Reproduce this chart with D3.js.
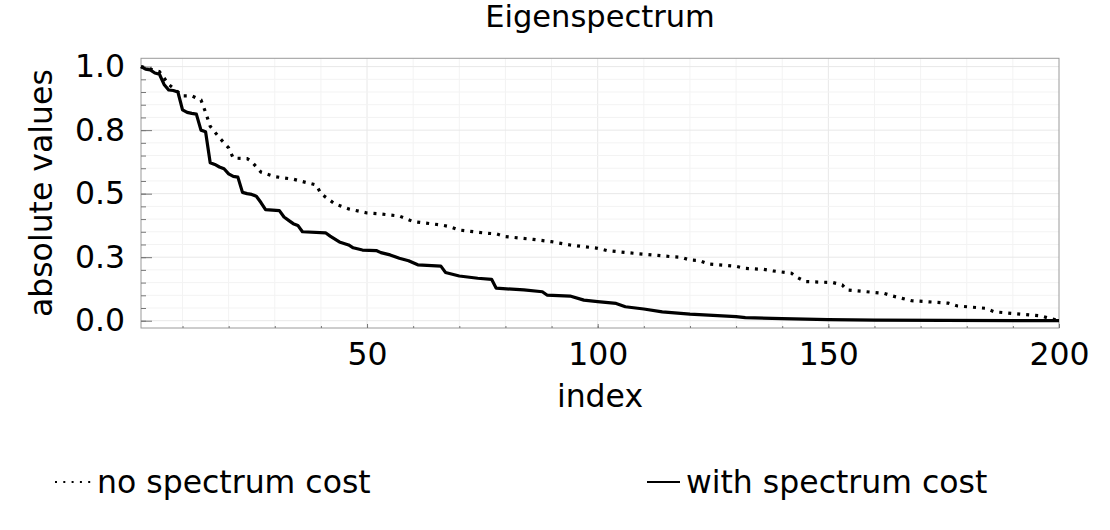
<!DOCTYPE html>
<html>
<head>
<meta charset="utf-8">
<script src="https://cdn.jsdelivr.net/npm/d3@7"></script>
<style>
  body { margin: 0; background: #fff; }
  text { font-family: "DejaVu Sans", sans-serif; fill: #000; }
</style>
</head>
<body>
<div id="chart"></div>
<script>
// breakpoints (index, value)
const withIdx = [1, 2, 3, 4, 5, 6, 7, 8, 9, 10, 11, 12, 13, 14, 15, 16, 17, 18, 19, 20,
  21, 22, 23, 24, 25, 26, 27, 28, 31, 32, 33, 34, 35, 36, 41, 42, 44, 46, 47, 49,
  52, 53, 55, 57, 59, 61, 66, 67, 70, 74, 77, 78, 84, 88, 89, 94, 97, 100, 104, 106,
  110, 114, 120, 125, 130, 132, 140, 150, 160, 175, 200];
const withVal = [1.0, 0.99, 0.987, 0.975, 0.97, 0.93, 0.908, 0.906, 0.9, 0.83, 0.82, 0.816, 0.813, 0.75, 0.744, 0.622, 0.615, 0.605, 0.598, 0.578,
  0.568, 0.565, 0.505, 0.5, 0.497, 0.49, 0.465, 0.437, 0.433, 0.408, 0.395, 0.382, 0.375, 0.35, 0.346, 0.333, 0.31, 0.298, 0.287, 0.278,
  0.276, 0.268, 0.259, 0.246, 0.236, 0.22, 0.215, 0.19, 0.176, 0.167, 0.163, 0.128, 0.121, 0.114, 0.101, 0.097, 0.081, 0.075, 0.068, 0.055,
  0.046, 0.035, 0.026, 0.021, 0.016, 0.012, 0.008, 0.004, 0.002, 0.001, 0.0];

const noIdx = [1, 3, 5, 7, 10, 12, 14, 15, 16, 18, 20, 21, 24, 25, 27, 30, 34, 39, 40, 43,
  46, 50, 53, 57, 60, 66, 68, 70, 76, 78, 80, 86, 90, 94, 100, 102, 108, 116, 118, 120,
  122, 124, 130, 132, 136, 138, 142, 143, 145, 151, 153, 154, 162, 164, 166, 168, 176, 178, 184, 186,
  194, 196, 198, 200];
const noVal = [1.0, 0.99, 0.98, 0.93, 0.885, 0.885, 0.869, 0.82, 0.765, 0.72, 0.68, 0.64, 0.638, 0.626, 0.585, 0.567, 0.557, 0.534, 0.5, 0.46,
  0.44, 0.424, 0.42, 0.412, 0.39, 0.377, 0.37, 0.357, 0.344, 0.342, 0.331, 0.32, 0.311, 0.298, 0.285, 0.276, 0.265, 0.252, 0.25, 0.239,
  0.237, 0.223, 0.214, 0.206, 0.202, 0.196, 0.187, 0.173, 0.154, 0.15, 0.141, 0.121, 0.108, 0.097, 0.088, 0.079, 0.069, 0.058, 0.049, 0.035,
  0.022, 0.019, 0.009, 0.0];

const xTicks = [50, 100, 150, 200];
const yTicks = [0, 0.25, 0.5, 0.75, 1.0];
const yTickLabels = ["0.0", "0.3", "0.5", "0.8", "1.0"];
const seriesNames = ["no spectrum cost", "with spectrum cost"];

const W = 1110, H = 530;
const plot = { left: 141, right: 1059, top: 58.3, bottom: 328 };
const fs = 31.5;

const svg = d3.select("#chart").append("svg")
    .attr("width", W)
    .attr("height", H);

const x = d3.scaleLinear().domain([1, 200]).range([plot.left, plot.right]);
const y = d3.scaleLinear().domain([-0.0287, 1.0327]).range([plot.bottom, plot.top]);

const xMinor = d3.range(10, 200, 10);
const yMinor = d3.range(0, 1.0001, 0.05).map(v => +v.toFixed(2));

// --- grid ---
const grid = svg.append("g");
grid.selectAll(".xminor").data(xMinor).join("line")
    .attr("x1", d => x(d)).attr("x2", d => x(d))
    .attr("y1", plot.top).attr("y2", plot.bottom)
    .attr("stroke", d => xTicks.includes(d) ? "#e8e8e8" : "#f3f3f3")
    .attr("stroke-width", 1);
grid.selectAll(".yminor").data(yMinor).join("line")
    .attr("y1", d => y(d)).attr("y2", d => y(d))
    .attr("x1", plot.left).attr("x2", plot.right)
    .attr("stroke", d => yTicks.includes(d) ? "#e8e8e8" : "#f3f3f3")
    .attr("stroke-width", 1);

// --- frame ---
svg.append("rect")
    .attr("x", plot.left).attr("y", plot.top)
    .attr("width", plot.right - plot.left)
    .attr("height", plot.bottom - plot.top)
    .attr("fill", "none")
    .attr("stroke", "#9a9a9a")
    .attr("stroke-width", 1);

// --- axes (ticks inside) ---
svg.append("g")
    .attr("transform", `translate(0,${plot.bottom})`)
    .call(d3.axisBottom(x).tickValues(xTicks).tickSize(-4).tickPadding(15));
svg.append("g")
    .attr("transform", `translate(0,${plot.bottom})`)
    .call(d3.axisBottom(x).tickValues(xMinor).tickSize(-2).tickFormat(""));

svg.append("g")
    .attr("transform", `translate(${plot.left},0)`)
    .call(d3.axisLeft(y).tickValues(yTicks).tickSize(-11).tickPadding(16)
      .tickFormat((d, i) => yTickLabels[i]));
svg.append("g")
    .attr("transform", `translate(${plot.left},0)`)
    .call(d3.axisLeft(y).tickValues(yMinor).tickSize(-5).tickFormat(""));

svg.selectAll(".domain").remove();
svg.selectAll(".tick line").attr("stroke", "#777");
svg.selectAll(".tick text")
    .style("font-family", "DejaVu Sans")
    .style("font-size", fs + "px")
    .attr("fill", "#000");

// --- lines ---
const line = d3.line()
    .x(d => x(d[0]))
    .y(d => y(d[1]));

svg.append("path")
    .datum(d3.zip(noIdx, noVal))
    .attr("d", line)
    .attr("fill", "none")
    .attr("stroke", "#000")
    .attr("stroke-width", 3.2)
    .attr("stroke-dasharray", "3,6");

svg.append("path")
    .datum(d3.zip(withIdx, withVal))
    .attr("d", line)
    .attr("fill", "none")
    .attr("stroke", "#000")
    .attr("stroke-width", 3.2)
    .attr("stroke-linejoin", "round");

// --- labels ---
svg.append("text")
    .attr("x", (plot.left + plot.right) / 2)
    .attr("y", 27)
    .attr("text-anchor", "middle")
    .style("font-size", "30.5px")
    .text("Eigenspectrum");

svg.append("text")
    .attr("x", (plot.left + plot.right) / 2)
    .attr("y", 407)
    .attr("text-anchor", "middle")
    .style("font-size", fs + "px")
    .text("index");

svg.append("text")
    .attr("transform", `translate(52,${(plot.top + plot.bottom) / 2}) rotate(-90)`)
    .attr("text-anchor", "middle")
    .style("font-size", fs + "px")
    .text("absolute values");

// --- legend ---
const legend = svg.append("g");
legend.append("line")
    .attr("x1", 55).attr("x2", 92).attr("y1", 482).attr("y2", 482)
    .attr("stroke", "#000").attr("stroke-width", 2)
    .attr("stroke-dasharray", "2,6.3");
legend.append("text")
    .attr("x", 97).attr("y", 493)
    .style("font-size", fs + "px")
    .text(seriesNames[0]);

legend.append("line")
    .attr("x1", 647).attr("x2", 680).attr("y1", 482).attr("y2", 482)
    .attr("stroke", "#000").attr("stroke-width", 2);
legend.append("text")
    .attr("x", 686).attr("y", 493)
    .style("font-size", fs + "px")
    .text(seriesNames[1]);
</script>
</body>
</html>
